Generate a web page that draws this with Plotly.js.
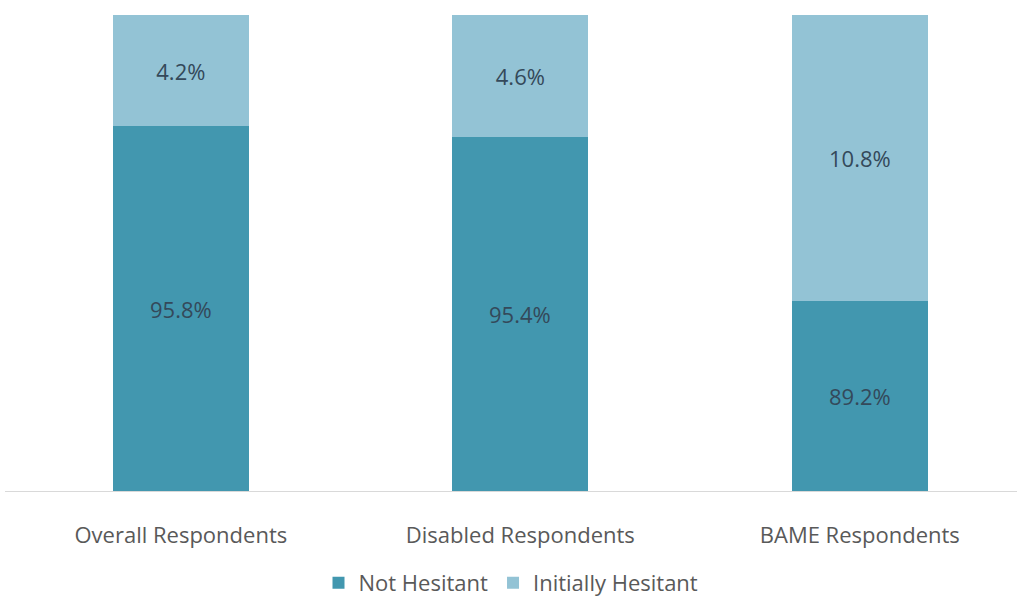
<!DOCTYPE html>
<html>
<head>
<meta charset="utf-8">
<script src="https://cdn.plot.ly/plotly-3.0.1.min.js"></script>
<style>html,body{margin:0;padding:0;background:#fff;}#chart{width:1017px;height:597px;}</style>
</head>
<body>
<div id="chart"></div>
<script>
const categories = ["Overall Respondents", "Disabled Respondents", "BAME Respondents"];
const notHesitant = [95.8, 95.4, 89.2];
const initiallyHesitant = [4.2, 4.6, 10.8];
const seriesNames = ["Not Hesitant", "Initially Hesitant"];
const axisMin = 82;
const axisMax = 100;

const fontFamily = "Open Sans, Noto Sans, sans-serif";
const labelFont = {family: fontFamily, size: 22, color: "#34495a"};
const fmt = v => v.toFixed(1) + "%";

const traces = [
  {
    type: "bar", name: seriesNames[0], x: categories, y: notHesitant,
    marker: {color: "#4297af"}, width: 0.4,
    textposition: "none", hoverinfo: "none"
  },
  {
    type: "bar", name: seriesNames[1], x: categories, y: initiallyHesitant,
    marker: {color: "#93c3d5"}, width: 0.4,
    text: initiallyHesitant.map(fmt), textposition: "inside",
    insidetextanchor: "middle", textfont: labelFont, hoverinfo: "none"
  }
];

// labels for the lower series, centred in the visible part of each bar
const annotations = categories.map((c, i) => ({
  x: c, y: (Math.max(axisMin, 0) + notHesitant[i]) / 2, xref: "x", yref: "y",
  text: fmt(notHesitant[i]), showarrow: false, font: labelFont,
  xanchor: "center", yanchor: "middle"
}));

const layout = {
  width: 1017, height: 597,
  margin: {l: 5, r: 0, t: 15, b: 106, autoexpand: false},
  barmode: "stack",
  paper_bgcolor: "#fff", plot_bgcolor: "#fff",
  font: {family: fontFamily, color: "#595959"},
  showlegend: true,
  legend: {orientation: "h", x: 0.5, xanchor: "center", y: -0.193, yanchor: "middle",
           font: {size: 22, color: "#595959"}, traceorder: "normal"},
  annotations: annotations,
  xaxis: {
    type: "category", range: [-0.518, 2.463], showline: true, linecolor: "#d9d9d9", linewidth: 1,
    showgrid: false, zeroline: false, ticks: "", ticklabelstandoff: 25, automargin: false,
    tickfont: {size: 22, color: "#595959"}
  },
  yaxis: {range: [axisMin, axisMax], visible: false, showgrid: false, zeroline: false}
};

Plotly.newPlot("chart", traces, layout, {displayModeBar: false, staticPlot: true});
</script>
</body>
</html>
